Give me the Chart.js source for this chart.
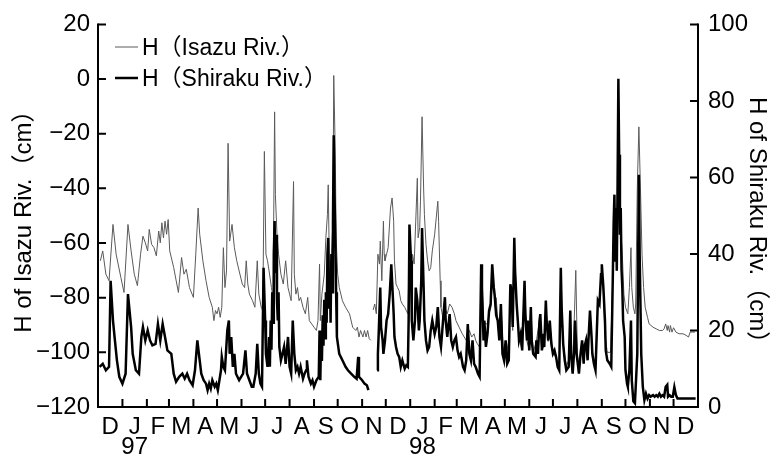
<!DOCTYPE html>
<html><head><meta charset="utf-8">
<script src="https://cdn.jsdelivr.net/npm/chart.js@4/dist/chart.umd.min.js"></script>
<style>html,body{margin:0;padding:0;background:#fff;}#wrap{width:770px;height:464px;}</style>
</head><body><div id="wrap"><canvas id="c" width="770" height="464"></canvas></div>
<script>
// Days counted from 1 Dec 1996
const monthStartDays = [0,31,62,90,121,151,182,212,243,274,304,335,365,396,427,455,486,516,547,577,608,639,669,700,730,761];
const monthLabels = ['D','J','F','M','A','M','J','J','A','S','O','N','D','J','F','M','A','M','J','J','A','S','O','N','D'];
const yearLabels = {1:'97', 13:'98'};
const leftTicks = [-120,-100,-80,-60,-40,-20,0,20];
const rightTicks = [0,20,40,60,80,100];

const isazuDay = [3,6,10,14,19,23,29,33,38,42,46,50,54,57,60,63,65,68,71,74,77,79,81,83,85,87,89,91,96,102,106,109,112,116,121,124,127,129,
133,137,141,145,147,149,151,153,155,157,159,161,163,165,167,170,173,176,179,183,186,188,190,192,196,199,202,204,207,209,211,213,215,217,220,222,224,225,227,229,232,235,238,241,243,245,248,249,251,
253,255,257,260,263,266,268,271,274,277,279,281,282,284,287,289,291,292,294,296,298,299,301,302,304,306,310,314,319,323,327,329,331,333,336,338,340,342,344,346,347,
349,351,353,355,357,358,360,362,363,364,366,368,371,373,375,376,378,380,
382,384,386,389,391,393,395,396,398,399,401,403,405,406,408,409,411,413,414,416,418,420,422,424,427,429,431,432,434,435,438,441,443,446,449,452,454,458,462,467,471,474,477,479,481,484,486,487,489,492,494,496,498,500,502,504,
505,508,511,514,518,521,523,526,528,531,534,538,541,544,547,549,552,556,560,563,566,568,571,573,577,581,585,587,590,594,597,599,602,606,608,610,614,617,619,622,624,627,631,634,
636,639,641,643,646,650,653,655,658,660,661,663,665,667,669,672,674,676,677,679,681,682,684,686,688,690,692,694,697,699,704,708,712,716,718,720,722,723,725,726,728,730,733,737,742,746,749,751,754,757];
const isazuH = [-66.5,-62.9,-71.4,-73.8,-53.2,-64.1,-72.6,-78.1,-53.2,-62.9,-71.4,-75.6,-64.1,-57.5,-59.9,-62.9,-55.0,-60.5,-61.7,-64.7,-55.6,-59.9,-52.6,-58.1,-52.0,-56.8,-51.4,-62.9,-69.0,-78.1,-65.3,-71.4,-69.6,-76.3,-79.9,-64.1,-47.2,-56.8,
-66.5,-73.8,-79.9,-83.5,-88.4,-84.7,-85.9,-83.5,-87.2,-83.5,-61.7,-76.3,-70.2,-23.5,-59.3,-53.2,-61.7,-66.5,-70.2,-75.0,-76.3,-66.5,-75.0,-78.7,-81.1,-83.5,-66.5,-78.7,-83.5,-84.7,-26.5,-64.1,-66.5,-70.2,-76.3,-79.9,-12.0,-42.3,-56.8,-64.1,-71.4,-75.0,-66.5,-76.3,-78.7,-81.1,-37.5,-71.4,-78.7,
-76.3,-81.1,-79.9,-83.5,-85.9,-79.9,-88.4,-89.6,-90.8,-92.0,-88.4,-67.7,-88.4,-78.7,-71.4,-58.1,-49.6,-38.7,-78.7,-64.1,-52.0,1.3,-27.8,-58.1,-71.4,-76.3,-81.1,-83.5,-85.9,-90.8,-92.0,-90.8,-94.4,-92.0,-94.4,-92.0,-94.4,-92.0,-95.0,-95.6,null,
-84.5,-82.3,-85.9,-64.1,-67.7,-59.3,-73.8,-52.0,-64.1,-66.5,-64.1,-61.7,-47.2,-43.5,-52.0,-66.5,-75.0,-76.3,
-77.5,-81.1,-82.3,-83.5,-84.7,-85.9,-62.9,-66.5,-69.0,-64.1,-67.7,-52.0,-36.3,-58.1,-54.4,-44.7,-13.8,-39.9,-49.6,-60.5,-66.5,-70.2,-69.0,-62.9,-56.8,-50.8,-44.7,-52.0,-73.8,-83.5,-88.4,-84.7,-85.9,-82.3,-83.5,-85.9,-88.4,-90.8,-93.2,-95.6,-92.0,-94.4,-93.2,-95.6,-96.8,-98.1,-70.0,-74.0,-88.4,-89.6,-89.6,-85.9,-84.0,-75.0,-76.3,-83.5,
-80,-92,-83,-99,-96,-101,-76,-92,-60,-83,-95,-99,-74,-96,-99,-84,-100,-96,-88,-99,-98,-82,-96,-90,-100,-102,-105,-70,-97,-105,-103,-85,-107,-70,-100,-107,-96,-99,-96,-96,-85,-101,-106,-82,
-83,-68,-78,-94,-100,-100,-72,-45,-70,-3,-25,-55,-64.1,-78.7,-83.5,-85.9,-76.3,-61.7,-76.3,-83.5,-85.9,-82.3,-39.9,-17.5,-39.9,-64.1,-76.3,-83.5,-87.2,-89.6,-90.8,-91.4,-92.0,-92.0,-91.4,-89.6,-92.0,-90.2,-92.6,-90.2,-92.6,-91.0,-92.6,-93.2,-93.2,-93.8,-94.4,-92.6,-92.6,-92.6];

const shirakuDay = [2,6,10,14,16,19,21,24,27,31,35,38,40,42,44,48,52,55,57,60,63,66,69,73,76,79,82,85,88,93,96,99,103,107,110,113,116,120,123,126,
128,131,134,137,139,141,143,145,148,150,152,154,156,157,159,161,164,166,167,169,171,173,175,179,184,187,189,192,195,197,200,202,204,206,208,210,212,213,215,217,218,219,220,221,222,223,224,225,226,227,228,229,230,232,234,236,238,241,243,245,247,249,251,
253,255,257,260,262,264,265,267,270,272,274,277,280,281,282,283,284,285,286,287,288,289,290,291,292,293,294,295,296,297,298,299,300,301,302,303,306,310,314,317,321,325,328,330,331,335,338,341,343,344,
354,355,356,358,359,361,362,364,366,368,370,372,373,375,376,378,380,
382,384,386,389,391,393,394,395,397,398,400,402,403,405,407,408,410,411,413,414,416,418,420,422,424,427,429,431,433,435,437,440,441,443,446,448,450,452,454,456,458,460,463,465,467,469,471,473,475,477,479,482,484,486,487,489,490,492,494,496,498,500,502,503,
505,507,509,511,513,515,517,519,521,523,525,526,528,529,531,533,534,536,538,541,542,544,545,547,549,550,552,555,556,558,560,561,563,565,566,568,569,571,573,575,577,579,581,583,585,587,588,590,592,594,597,599,600,602,604,605,607,609,610,612,614,616,617,619,621,622,624,626,627,629,631,632,634,
636,638,639,641,643,644,646,649,651,653,654,655,656,657,658,659,660,661,662,663,664,665,666,668,669,671,672,674,676,677,679,681,682,684,686,687,689,691,693,695,697,699,701,704,706,708,710,712,714,716,718,720,722,723,725,727,729,731,733,735,740,750,758];
const shirakuH = [10.5,11.3,9.6,10.5,33.0,22.6,18.3,12.2,7.9,6.1,8.7,29.5,25.2,20.9,13.9,9.6,8.7,18.3,20.9,17.4,20.0,17.4,16.1,16.5,21.7,17.4,21.7,18.3,14.8,13.9,8.7,6.6,7.9,8.7,7.4,8.7,7.0,5.7,9.6,17.4,
13.9,8.7,7.0,6.1,4.4,6.1,4.8,7.0,5.3,6.1,4.4,7.0,9.6,13.1,10.5,9.6,20.0,22.6,13.9,18.3,10.5,13.9,8.7,7.0,8.7,14.8,8.7,7.0,5.3,5.3,8.7,16.5,8.7,6.1,5.3,36.4,22.6,13.9,10.5,18.3,10.5,22.6,15.0,30.0,22.0,40.0,48.6,35.0,45.0,28.0,22.6,30.0,15.7,12.2,13.9,15.7,11.3,18.3,10.5,8.7,22.6,13.9,9.6,
10.5,8.7,10.5,7.4,8.7,9.6,12.2,7.9,6.1,7.0,5.3,7.0,7.9,20.0,7.0,20.0,12.0,24.0,16.0,28.0,18.0,30.0,22.0,40.0,44.2,26.0,35.0,22.0,40.0,30.0,48.0,71.0,55.0,45.0,30.0,18.3,13.9,12.2,10.5,9.6,8.7,7.9,7.4,13.1,7.9,7.0,6.1,5.7,4.4,null,
9.6,13.9,19.1,31.2,20.9,17.4,13.9,17.4,22.6,24.3,29.5,37.3,33.0,24.3,18.3,15.7,13.9,
13.1,10.5,12.2,10.0,10.9,10.5,22.6,47.7,38.2,22.6,17.4,22.6,31.2,27.8,20.0,22.6,33.0,46.8,31.2,22.6,17.4,14.8,15.7,20.0,22.6,19.1,20.9,26.1,18.3,15.7,20.9,28.7,22.6,18.3,24.3,17.4,15.7,17.4,18.3,14.8,13.1,13.9,10.5,9.6,12.2,21.7,13.9,12.2,17.4,11.3,10.5,8.7,7.9,37.3,31.2,17.4,22.6,15.7,19.1,25.2,26.9,37.3,31.2,29.5,
24.0,22.6,17.4,26.9,13.9,12.2,17.4,11.3,12.2,32.1,29.5,20.9,44.2,35.6,26.9,20.9,17.4,19.1,14.8,33.0,24.3,17.4,22.6,14.8,26.1,17.4,13.9,13.1,17.4,13.9,22.6,24.3,14.8,19.1,15.7,27.8,22.6,17.4,22.6,16.5,13.9,14.8,13.1,10.5,9.6,36.4,26.1,16.5,12.2,9.6,10.5,25.2,13.9,8.7,14.8,22.6,13.9,10.5,8.7,13.9,17.4,11.3,15.7,17.4,12.2,17.4,25.2,18.3,13.9,11.3,9.6,15.7,27.8,
26.9,34.7,37.3,31.2,22.6,14.8,12.2,11.3,10.5,34.7,48.0,55.5,38.0,52.0,35.6,58.0,85.8,65.9,45.0,52.0,36.0,31.2,22.6,18.3,9.6,6.1,5.3,9.6,22.6,7.0,1.5,1.0,5.3,13.9,60.7,39.9,13.9,5.3,1.8,3.5,2.2,3.1,2.7,3.1,2.7,3.1,2.7,3.5,2.7,3.1,2.7,5.3,5.8,2.7,3.1,2.7,2.7,5.2,3.1,2.2,2.2,2.2,2.2];

const FONT = "'Liberation Sans', Arial, 'Noto Sans CJK JP', sans-serif";
Chart.defaults.font.family = FONT;
Chart.defaults.color = '#000';

const midDays = monthLabels.map((_, i) => (monthStartDays[i] + monthStartDays[i + 1]) / 2);

const axisPlugin = {
  id: 'axesLegend',
  afterDraw(chart) {
    const {ctx, chartArea: a, scales} = chart;
    ctx.save();
    ctx.strokeStyle = '#000';
    ctx.lineWidth = 2;
    ctx.beginPath();
    ctx.moveTo(a.left, a.top - 1); ctx.lineTo(a.left, a.bottom); ctx.lineTo(a.right, a.bottom); ctx.lineTo(a.right, a.top - 1);
    ctx.stroke();
    ctx.beginPath();
    leftTicks.forEach(v => { const y = scales.yL.getPixelForValue(v); ctx.moveTo(a.left, y); ctx.lineTo(a.left + 8, y); });
    rightTicks.forEach(v => { const y = scales.yR.getPixelForValue(v); ctx.moveTo(a.right, y); ctx.lineTo(a.right - 8, y); });
    monthStartDays.forEach(d => { const x = scales.x.getPixelForValue(d); ctx.moveTo(x, a.bottom); ctx.lineTo(x, a.bottom - 8); });
    ctx.stroke();
    // right axis title
    ctx.fillStyle = '#000';
    ctx.font = '24px ' + FONT;
    ctx.save();
    ctx.translate(757, 97);
    ctx.rotate(Math.PI / 2);
    ctx.textAlign = 'left';
    ctx.textBaseline = 'middle';
    ctx.fillText(scales.yR.options.title.text, 0, 0);
    ctx.restore();
    // legend
    const rows = [47, 78];
    ctx.font = '23px ' + FONT;
    ctx.textAlign = 'left';
    ctx.textBaseline = 'middle';
    chart.data.datasets.forEach((ds, i) => {
      const y = rows[i];
      ctx.beginPath();
      ctx.strokeStyle = ds.borderColor;
      ctx.lineWidth = ds.borderWidth;
      ctx.moveTo(115, y); ctx.lineTo(138, y);
      ctx.stroke();
      ctx.fillText(ds.label, 142, y + 2);
    });
    ctx.restore();
  }
};

new Chart(document.getElementById('c'), {
  type: 'line',
  data: {
    datasets: [
      {label: 'H（Isazu Riv.）', data: isazuDay.map((d, i) => ({x: d, y: isazuH[i]})), yAxisID: 'yL',
       borderColor: '#5a5a5a', borderWidth: 1, pointRadius: 0, order: 2, spanGaps: false, tension: 0},
      {label: 'H（Shiraku Riv.）', data: shirakuDay.map((d, i) => ({x: d, y: shirakuH[i]})), yAxisID: 'yR',
       borderColor: '#000', borderWidth: 2.5, pointRadius: 0, order: 1, spanGaps: false, tension: 0}
    ]
  },
  options: {
    responsive: false, animation: false, devicePixelRatio: 1,
    layout: {padding: {top: 22, left: 0, right: 0, bottom: 0}},
    plugins: {legend: {display: false}, tooltip: {enabled: false}},
    scales: {
      x: {
        type: 'linear', min: 0, max: 761,
        afterBuildTicks: s => { s.ticks = midDays.map(v => ({value: v})); },
        afterFit: s => { s.height = 57; },
        grid: {display: false, drawTicks: false}, border: {display: false},
        ticks: {autoSkip: false, maxRotation: 0, padding: 10, font: {size: 24, lineHeight: 0.85},
          callback: (v, i) => yearLabels[i] ? [monthLabels[i], yearLabels[i]] : monthLabels[i]}
      },
      yL: {
        position: 'left', min: -120, max: 20,
        afterBuildTicks: s => { s.ticks = leftTicks.map(v => ({value: v})); },
        afterFit: s => { s.width = 98; },
        grid: {display: false, drawTicks: false}, border: {display: false},
        ticks: {padding: 8, font: {size: 24}, callback: v => v < 0 ? '\u2212' + Math.abs(v) : String(v)},
        title: {display: true, text: 'H of Isazu Riv.（cm）', font: {size: 24}, padding: {top: 10, bottom: 0}}
      },
      yR: {
        position: 'right', min: 0, max: 100,
        afterBuildTicks: s => { s.ticks = rightTicks.map(v => ({value: v})); },
        afterFit: s => { s.width = 72; },
        grid: {display: false, drawTicks: false}, border: {display: false},
        ticks: {padding: 10, font: {size: 24}, callback: v => String(v)},
        title: {display: false, text: 'H of Shiraku Riv.（cm）', font: {size: 24}}
      }
    }
  },
  plugins: [axisPlugin]
});
</script>
</body></html>
